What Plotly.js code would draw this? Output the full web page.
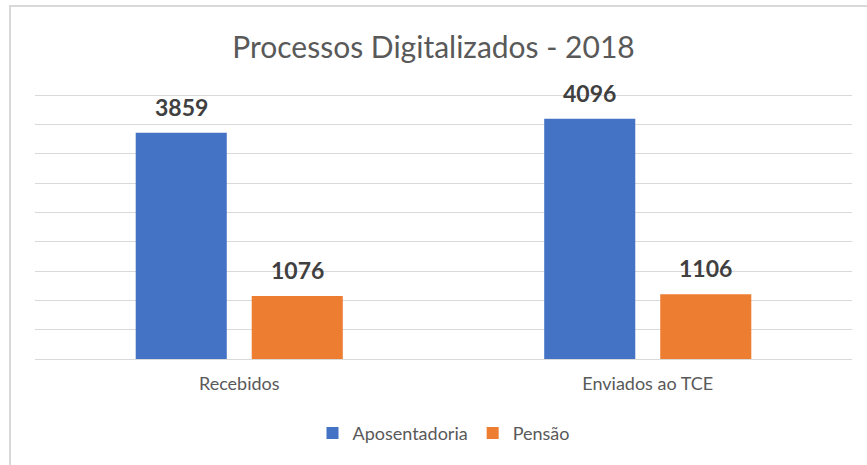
<!DOCTYPE html>
<html>
<head>
<meta charset="utf-8">
<script src="https://cdn.plot.ly/plotly-3.0.1.min.js"></script>
<style>
  html, body { margin: 0; padding: 0; background: #fff; }
  #chart { width: 867px; height: 465px; }
</style>
</head>
<body>
<div id="chart"></div>
<script>
// Processos digitalizados em 2018
var categories = ['Recebidos', 'Enviados ao TCE'];
var aposentadoria = [3859, 4096];
var pensao = [1076, 1106];

var seriesNames = ['Aposentadoria', 'Pensão'];
var seriesColors = ['#4472C4', '#ED7D31'];
var seriesValues = [aposentadoria, pensao];

var data = [];
var annotations = [];

seriesValues.forEach(function(vals, s) {
    data.push({
        x: categories,
        y: vals,
        name: seriesNames[s],
        type: 'bar',
        marker: { color: seriesColors[s] },
        hoverinfo: 'none'
    });
    // labels above the bars
    vals.forEach(function(v, i) {
        annotations.push({
            x: categories[i],
            y: v,
            xref: 'x',
            yref: 'y',
            text: '<b>' + v + '</b>',
            showarrow: false,
            yanchor: 'bottom',
            yshift: 10,
            xshift: s === 0 ? -58 : 58,
            font: { family: 'Lato', size: 23, color: '#404040' }
        });
    });
});

var layout = {
    width: 867,
    height: 465,
    margin: { l: 35, r: 15, t: 94, b: 106 },
    paper_bgcolor: '#fff',
    plot_bgcolor: '#fff',
    font: { family: 'Lato', color: '#595959' },
    title: {
        text: 'Processos Digitalizados - 2018',
        font: { family: 'Lato', size: 30, color: '#595959' },
        x: 0.5,
        xanchor: 'center',
        y: 1 - 47 / 465,
        yanchor: 'middle'
    },
    barmode: 'group',
    bargap: 0.432,
    bargroupgap: 0.215,
    xaxis: {
        showgrid: false,
        showline: false,
        ticks: '',
        ticklabelstandoff: 12,
        tickfont: { family: 'Lato', size: 18, color: '#595959' }
    },
    yaxis: {
        range: [0, 4520],
        tickvals: [500, 1000, 1500, 2000, 2500, 3000, 3500, 4000, 4500],
        showticklabels: false,
        gridcolor: '#d9d9d9',
        gridwidth: 1,
        zeroline: true,
        zerolinecolor: '#d9d9d9',
        zerolinewidth: 1,
        fixedrange: true
    },
    legend: {
        orientation: 'h',
        x: 0.5,
        xanchor: 'center',
        y: -0.28,
        yanchor: 'middle',
        font: { family: 'Lato', size: 18, color: '#595959' }
    },
    annotations: annotations,
    shapes: [
        { type: 'line', xref: 'paper', yref: 'paper', x0: -26 / 817, x1: 1.1, y0: 1 + 88 / 265, y1: 1 + 88 / 265,
          line: { color: '#d9d9d9', width: 2 } },
        { type: 'line', xref: 'paper', yref: 'paper', x0: -25 / 817, x1: -25 / 817, y0: 1 + 88 / 265, y1: -0.5,
          line: { color: '#d9d9d9', width: 2 } }
    ]
};

Plotly.newPlot('chart', data, layout, { displayModeBar: false, staticPlot: true });
</script>
</body>
</html>
